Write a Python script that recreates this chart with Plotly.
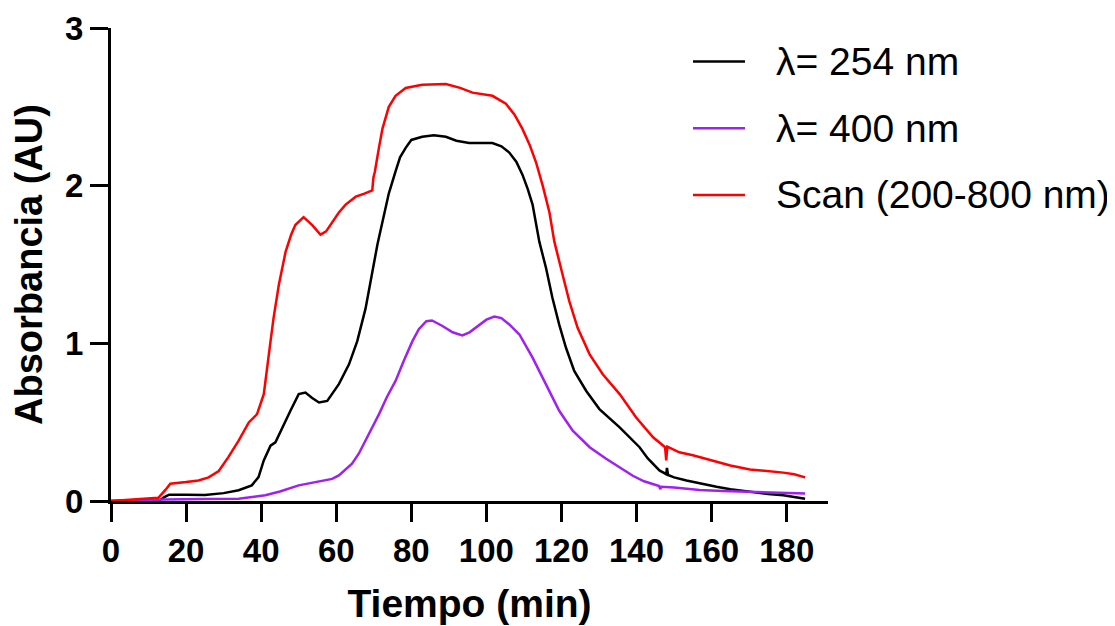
import plotly.graph_objects as go

# ---- data ----
t_254 = [0, 13.0, 14.2, 15.5, 20, 25, 30, 34.0, 37.5, 39.3, 40.7, 42.5, 43.8, 45.6, 47.8,
         50.0, 51.8, 53.5, 55.4, 57.6, 60.7, 63.4, 65.6, 67.8, 69.6, 71.0, 72.5, 74.0, 75.8,
         77.0, 78.5, 80.0, 82.9, 86.0, 89.2, 92.0, 95.4, 101.6, 104.0, 106.1, 108.0, 109.6,
         111.0, 112.3, 114.1, 115.9, 117.6, 119.4, 121.2, 123.4, 126.6, 130.1, 135.5, 140.8,
         143.0, 146.1, 147.9, 148.1, 148.4, 150.0, 153.3, 157.0, 161.3, 165.0, 170.2, 175.0,
         179.1, 182.0, 184.9]
a_254 = [0, 0.005, 0.025, 0.04, 0.04, 0.038, 0.05, 0.068, 0.099, 0.152, 0.257, 0.351, 0.372,
         0.467, 0.572, 0.678, 0.688, 0.655, 0.625, 0.635, 0.741, 0.867, 1.014, 1.22, 1.45,
         1.63, 1.79, 1.95, 2.09, 2.18, 2.24, 2.29, 2.31, 2.32, 2.31, 2.285, 2.27, 2.27, 2.25,
         2.21, 2.15, 2.07, 1.98, 1.88, 1.645, 1.476, 1.287, 1.119, 0.972, 0.825, 0.698,
         0.583, 0.467, 0.341, 0.27, 0.194, 0.17, 0.21, 0.165, 0.15, 0.13, 0.11, 0.09, 0.075,
         0.057, 0.045, 0.036, 0.025, 0.015]

t_400 = [0, 14.4, 25, 34, 41.1, 45, 50, 53.6, 56.2, 58.9, 60.7, 62.5, 64.2, 66, 67.8, 69.6,
         71.4, 73.5, 75.8, 78.0, 80.3, 82.0, 84.0, 85.5, 88.3, 91.0, 93.6, 95.5, 97.2, 100.0,
         102.1, 104.0, 106.1, 108.8, 112.3, 115.9, 119.4, 123.0, 127.5, 131.9, 136.3, 139.0,
         142.0, 145.3, 146.0, 146.3, 146.6, 150.0, 156.8, 163.0, 170.2, 177.0, 184.9]
a_400 = [0, 0.01, 0.012, 0.015, 0.036, 0.06, 0.099, 0.115, 0.125, 0.14, 0.162, 0.2, 0.236,
         0.3, 0.383, 0.47, 0.551, 0.66, 0.762, 0.89, 1.014, 1.09, 1.14, 1.145, 1.11, 1.07,
         1.05, 1.07, 1.10, 1.15, 1.17, 1.16, 1.12, 1.056, 0.909, 0.741, 0.572, 0.446, 0.341,
         0.268, 0.204, 0.16, 0.125, 0.10, 0.095, 0.075, 0.09, 0.085, 0.07, 0.063, 0.057,
         0.052, 0.047]

t_scan = [0, 12.6, 14.5, 15.8, 20, 23.3, 26, 28.7, 31.3, 34.0, 36.7, 38.9, 40.7, 41.5, 42.5,
          43.3, 44.7, 46.5, 48.0, 49.1, 51.3, 53.6, 55.8, 57.3, 58.9, 60.7, 62.5, 65.2, 67.5,
          69.6, 69.9, 70.3, 71.3, 72.3, 74.0, 75.8, 78.5, 82.9, 89.2, 93.0, 96.3, 101.6,
          105.2, 107.5, 109.6, 111.5, 113.2, 115.0, 116.8, 118.1, 120.3, 122.1, 124.3, 127.5,
          131.0, 135.5, 139.9, 144.4, 147.6, 147.9, 148.2, 151.4, 155.0, 161.3, 165.0, 170.2,
          175.0, 179.1, 182.0, 184.9]
a_scan = [0, 0.02, 0.07, 0.11, 0.12, 0.13, 0.15, 0.19, 0.28, 0.383, 0.498, 0.551, 0.678,
          0.845, 1.014, 1.16, 1.37, 1.58, 1.69, 1.75, 1.80, 1.75, 1.69, 1.71, 1.77, 1.83,
          1.88, 1.93, 1.95, 1.97, 2.05, 2.09, 2.23, 2.36, 2.50, 2.57, 2.62, 2.64, 2.645,
          2.62, 2.59, 2.57, 2.52, 2.45, 2.36, 2.26, 2.15, 2.0, 1.83, 1.645, 1.435, 1.266,
          1.098, 0.930, 0.804, 0.678, 0.530, 0.404, 0.341, 0.257, 0.345, 0.309, 0.29, 0.25,
          0.225, 0.20, 0.19, 0.18, 0.17, 0.15]

names = ["λ= 254 nm", "λ= 400 nm", "Scan (200-800 nm)"]
colors = ["#000000", "#A020F0", "#FF0000"]

x_ticks = [0, 20, 40, 60, 80, 100, 120, 140, 160, 180]
y_ticks = [0, 1, 2, 3]

FONT = "Arial, Liberation Sans, sans-serif"

fig = go.Figure()
for i, (tx, ay) in enumerate([(t_254, a_254), (t_400, a_400), (t_scan, a_scan)]):
    fig.add_trace(go.Scatter(x=tx, y=ay, mode="lines", name=names[i], showlegend=False,
                             line=dict(color=colors[i], width=2.5)))

axis_common = dict(showline=True, linecolor="black", linewidth=3, ticks="outside",
                   ticklen=18, tickwidth=3, tickcolor="black", showgrid=False,
                   zeroline=False, automargin=False, ticklabeloverflow="allow",
                   tickfont=dict(family=FONT, size=33, color="black", weight="bold"))

# legend drawn at fixed positions (paper coordinates of a 473 px tall plot area)
leg_rows_y = [0.929, 0.788, 0.647]
shapes = []
annotations = []
for i in range(3):
    shapes.append(dict(type="line", xref="paper", yref="paper",
                       x0=0.8117, x1=0.8842, y0=leg_rows_y[i], y1=leg_rows_y[i],
                       line=dict(color=colors[i], width=2.5)))
    annotations.append(dict(xref="paper", yref="paper", x=0.924, y=leg_rows_y[i],
                            xanchor="left", yanchor="middle", showarrow=False,
                            text=names[i],
                            font=dict(family=FONT, size=39, color="black")))

fig.update_layout(
    width=1115, height=626,
    margin=dict(l=103, r=295, t=20, b=133),
    plot_bgcolor="white", paper_bgcolor="white",
    xaxis=dict(range=[0, 191], tickvals=x_ticks,
               title=dict(text="Tiempo (min)", standoff=23,
                          font=dict(family=FONT, size=39, color="black", weight="bold")),
               **axis_common),
    yaxis=dict(range=[0, 3], tickvals=y_ticks,
               title=dict(text="Absorbancia (AU)", standoff=15,
                          font=dict(family=FONT, size=38, color="black", weight="bold")),
               **axis_common),
    shapes=shapes,
    annotations=annotations,
    showlegend=False,
)

fig.write_html("out.html")
